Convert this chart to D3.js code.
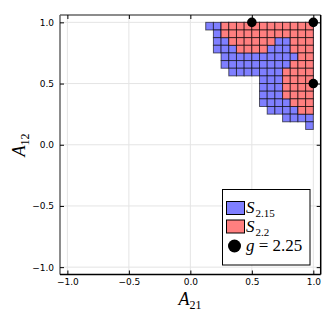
<!DOCTYPE html>
<html><head><meta charset="utf-8">
<script src="https://cdn.jsdelivr.net/npm/d3@7"></script>
<style>body{margin:0;background:#fff}svg{display:block}</style>
</head><body>
<script>
// ---- data ----
const a21Values = [0.15625,0.21875,0.28125,0.34375,0.40625,0.46875,0.53125,0.59375,0.65625,0.71875,0.78125,0.84375,0.90625,0.96875];
const a12Values = [0.96875,0.90625,0.84375,0.78125,0.71875,0.65625,0.59375,0.53125,0.46875,0.40625,0.34375,0.28125,0.21875,0.15625];
const cellSize = 0.0625;
// runs: [rowIndex, firstColIndex, lastColIndex]
const s215Runs = [[0,0,13],[1,1,13],[2,1,13],[3,1,13],[4,2,13],[5,2,13],[6,3,13],[7,7,13],[8,7,13],[9,7,13],[10,7,13],[11,8,13],[12,10,13],[13,13,13]];
const s22Runs = [[0,2,13],[1,2,13],[2,3,8],[2,11,13],[3,4,7],[3,11,13],[4,12,13],[5,11,13],[6,10,13],[7,10,13],[8,10,13],[9,10,13],[10,11,13],[11,12,13]];
const gPoints = [[0.5,1.0],[1.0,1.0],[1.0,0.5]];
const tickValues = [-1.0,-0.5,0.0,0.5,1.0];
const tickLabels = ["\u22121.0","\u22120.5","0.0","0.5","1.0"];
const seriesNames = ["2.15","2.2","2.25"];

const W=329,H=329;
const svg=d3.select("body").append("svg").attr("width",W).attr("height",H);
const x=d3.scaleLinear().domain([-1.06,1.06]).range([60,320.7]);
const y=d3.scaleLinear().domain([-1.06,1.06]).range([274.5,15]);

// grid
const g=svg.append("g");
g.selectAll(".gx").data(tickValues).join("line").attr("x1",d=>x(d)).attr("x2",d=>x(d)).attr("y1",15).attr("y2",274.5).attr("stroke","#e4e4e4").attr("stroke-width",1);
g.selectAll(".gy").data(tickValues).join("line").attr("y1",d=>y(d)).attr("y2",d=>y(d)).attr("x1",60).attr("x2",320.7).attr("stroke","#e4e4e4").attr("stroke-width",1);

function expand(runs){const out=[];runs.forEach(([r,c0,c1])=>{for(let c=c0;c<=c1;c++)out.push([a21Values[c],a12Values[r]]);});return out;}
function drawCells(cells,fill){
  svg.append("g").selectAll("rect").data(cells).join("rect")
   .attr("x",d=>x(d[0]-cellSize/2)).attr("y",d=>y(d[1]+cellSize/2))
   .attr("width",d=>x(d[0]+cellSize/2)-x(d[0]-cellSize/2))
   .attr("height",d=>y(d[1]-cellSize/2)-y(d[1]+cellSize/2))
   .attr("fill",fill).attr("stroke","#000").attr("stroke-opacity",0.6).attr("stroke-width",1);
}
drawCells(expand(s215Runs),"#7f7fff");
drawCells(expand(s22Runs),"#ff7f7f");

// frame
svg.append("line").attr("x1",60).attr("x2",320.7).attr("y1",15).attr("y2",15).attr("stroke","#666").attr("stroke-width",1.5);
svg.append("line").attr("x1",60).attr("x2",60).attr("y1",15).attr("y2",274.5).attr("stroke","#666").attr("stroke-width",1.5);
svg.append("line").attr("x1",60).attr("x2",320.7).attr("y1",274.5).attr("y2",274.5).attr("stroke","#000").attr("stroke-width",1.5);
svg.append("line").attr("x1",320.7).attr("x2",320.7).attr("y1",15).attr("y2",274.5).attr("stroke","#000").attr("stroke-width",1.5);

// axes (inward ticks)
const fmt=(d,i)=>tickLabels[i];
svg.append("g").attr("transform","translate(0,274.5)").call(d3.axisBottom(x).tickValues(tickValues).tickFormat(fmt).tickSizeInner(-4).tickSizeOuter(0).tickPadding(4));
svg.append("g").attr("transform","translate(60,0)").call(d3.axisLeft(y).tickValues(tickValues).tickFormat(fmt).tickSizeInner(-4).tickSizeOuter(0).tickPadding(6));
svg.append("g").attr("transform","translate(0,15)").call(d3.axisTop(x).tickValues(tickValues).tickFormat("").tickSizeInner(-4).tickSizeOuter(0));
svg.append("g").attr("transform","translate(320.7,0)").call(d3.axisRight(y).tickValues(tickValues).tickFormat("").tickSizeInner(-4).tickSizeOuter(0));
svg.selectAll(".domain").remove();
svg.selectAll(".tick line").attr("stroke","#000");
svg.selectAll(".tick text").attr("font-family","DejaVu Sans").attr("font-size","9px").attr("fill","#000");

// markers
svg.append("g").selectAll("circle").data(gPoints).join("circle")
  .attr("cx",d=>x(d[0])).attr("cy",d=>y(d[1])).attr("r",4.8).attr("fill","#000");

// axis labels
const serif="Liberation Serif, DejaVu Serif, serif";
const xl=svg.append("text").attr("x",190).attr("y",305).attr("text-anchor","middle").attr("font-family",serif).attr("font-style","italic").attr("font-size","18px");
xl.append("tspan").text("A");
xl.append("tspan").attr("font-style","normal").attr("font-size","12px").attr("dy",4).text("21");
const yl=svg.append("text").attr("transform","translate(25,145) rotate(-90)").attr("text-anchor","middle").attr("font-family",serif).attr("font-style","italic").attr("font-size","18px");
yl.append("tspan").text("A");
yl.append("tspan").attr("font-style","normal").attr("font-size","12px").attr("dy",4).text("12");

// legend
const lg=svg.append("g");
lg.append("rect").attr("x",222.5).attr("y",189.5).attr("width",87.5).attr("height",75.5).attr("fill","#fff").attr("stroke","#000").attr("stroke-width",1);
const items=[{t:"rect",fill:"#7f7fff",name:seriesNames[0],cy:208},{t:"rect",fill:"#ff7f7f",name:seriesNames[1],cy:226.5},{t:"circ",name:seriesNames[2],cy:246}];
items.forEach(it=>{
  if(it.t==="rect"){
    lg.append("rect").attr("x",226.5).attr("y",it.cy-6.5).attr("width",18).attr("height",13).attr("fill",it.fill).attr("stroke","#000").attr("stroke-width",1);
    const tx=lg.append("text").attr("x",246).attr("y",it.cy+5).attr("font-family",serif).attr("font-size","17px");
    tx.append("tspan").attr("font-style","italic").text("S");
    tx.append("tspan").attr("font-size","11px").attr("dx",1).attr("dy",4).text(it.name);
  } else {
    lg.append("circle").attr("cx",234.5).attr("cy",it.cy).attr("r",6.5).attr("fill","#000");
    const tx=lg.append("text").attr("x",246).attr("y",it.cy+5).attr("font-family",serif).attr("font-size","17px");
    tx.append("tspan").attr("font-style","italic").text("g");
    tx.append("tspan").text(" = "+it.name);
  }
});
</script>
</body></html>
